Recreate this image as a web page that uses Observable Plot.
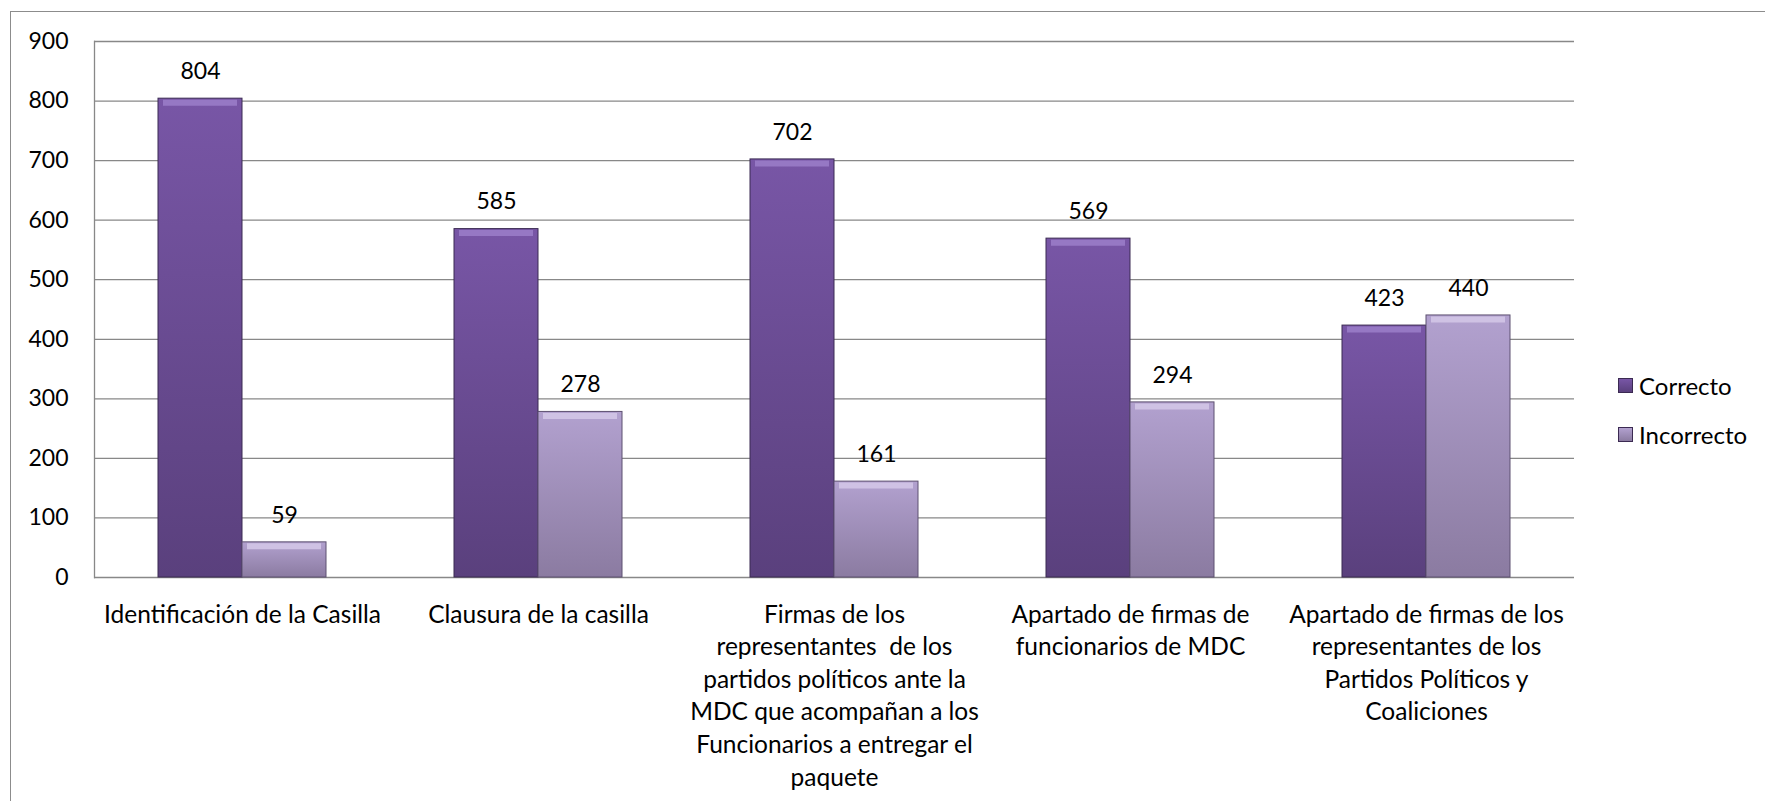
<!DOCTYPE html>
<html>
<head>
<meta charset="utf-8">
<script src="https://cdn.jsdelivr.net/npm/d3@7"></script>
<script src="https://cdn.jsdelivr.net/npm/@observablehq/plot@0.6"></script>
<style>
  html, body { margin: 0; padding: 0; background: #fff; }
  #wrap { position: relative; width: 1765px; height: 801px; overflow: hidden; font-family: Lato, sans-serif; }
  #border { position: absolute; left: 10px; top: 11px; width: 1800px; height: 900px;
            border-top: 1.5px solid #8c8c8c; border-left: 1.5px solid #8c8c8c; }
  #chart { position: absolute; left: 0; top: 0; }
  #legend { position: absolute; left: 1618px; top: 372px; font-size: 24px; color: #000; }
  .row { display: flex; align-items: center; height: 26px; margin-bottom: 23px; }
  .sw { width: 15px; height: 15px; margin-right: 6px; box-sizing: border-box; border: 1px solid #3b2a52; }
</style>
</head>
<body>
<div id="wrap">
  <div id="border"></div>
  <div id="chart"></div>
  <div id="legend"></div>
</div>
<script>
const categories = [
  "Identificación de la Casilla",
  "Clausura de la casilla",
  "Firmas de los representantes  de los partidos políticos ante la MDC que acompañan a los Funcionarios a entregar el paquete",
  "Apartado de firmas de funcionarios de MDC",
  "Apartado de firmas de los representantes de los Partidos Políticos y Coaliciones"
];
const categoryLabels = [
  "Identificación de la Casilla",
  "Clausura de la casilla",
  "Firmas de los\nrepresentantes  de los\npartidos políticos ante la\nMDC que acompañan a los\nFuncionarios a entregar el\npaquete",
  "Apartado de firmas de\nfuncionarios de MDC",
  "Apartado de firmas de los\nrepresentantes de los\nPartidos Políticos y\nCoaliciones"
];
const series = ["Correcto", "Incorrecto"];
const correcto = [804, 585, 702, 569, 423];
const incorrecto = [59, 278, 161, 294, 440];
const yTicks = [0, 100, 200, 300, 400, 500, 600, 700, 800, 900];

const rows = [];
categories.forEach((c, i) => {
  rows.push({category: c, series: "Correcto", value: correcto[i]});
  rows.push({category: c, series: "Incorrecto", value: incorrecto[i]});
});
const rowsC = rows.filter(d => d.series === "Correcto");
const rowsI = rows.filter(d => d.series === "Incorrecto");

const svg = Plot.plot({
  width: 1765,
  height: 801,
  marginLeft: 93,
  marginTop: 41,
  marginRight: 191,
  marginBottom: 224,
  style: {fontFamily: "Lato, sans-serif", fontSize: "23px", color: "#000", background: "transparent"},
  fx: {domain: categories, padding: 0, axis: null, label: null},
  x: {domain: series, paddingInner: 0, paddingOuter: 0.742, axis: null, label: null},
  y: {domain: [0, 900], axis: null, label: null},
  marks: [
    Plot.gridY(yTicks, {stroke: "#888", strokeOpacity: 1, strokeWidth: 1.3}),
    Plot.frame({anchor: "left", facet: "super", stroke: "#888", strokeWidth: 1.3}),
    Plot.axisY(yTicks, {tickSize: 0, tickPadding: 26, fontSize: 23, fill: "#000"}),
    Plot.axisFx({anchor: "bottom", tickSize: 0, tickPadding: 22, fontSize: 24.5, fill: "#000", lineHeight: 1.33,
                 label: null, tickFormat: d => categoryLabels[categories.indexOf(d)]}),
    Plot.barY(rowsC, {fx: "category", x: "series", y: "value", fill: "url(#gradC)", stroke: "#3b2a52", strokeWidth: 1}),
    Plot.barY(rowsI, {fx: "category", x: "series", y: "value", fill: "url(#gradI)", stroke: "#5d5070", strokeWidth: 1}),
    Plot.tickY(rowsC, {fx: "category", x: "series", y: "value", stroke: "#9678c4", strokeWidth: 6, dy: 4, insetLeft: 5, insetRight: 5}),
    Plot.tickY(rowsI, {fx: "category", x: "series", y: "value", stroke: "#cfc2e4", strokeWidth: 6, dy: 4, insetLeft: 5, insetRight: 5}),
    Plot.text(rows, {fx: "category", x: "series", y: "value", text: d => String(d.value), dy: -27,
                     lineAnchor: "middle", fontSize: 23, fill: "#000"})
  ]
});

const defs = d3.select(svg).insert("defs", ":first-child");
const gC = defs.append("linearGradient").attr("id", "gradC").attr("x1", 0).attr("y1", 0).attr("x2", 0).attr("y2", 1);
gC.append("stop").attr("offset", "0%").attr("stop-color", "#7856a6");
gC.append("stop").attr("offset", "100%").attr("stop-color", "#5a407d");
const gI = defs.append("linearGradient").attr("id", "gradI").attr("x1", 0).attr("y1", 0).attr("x2", 0).attr("y2", 1);
gI.append("stop").attr("offset", "0%").attr("stop-color", "#b2a1cf");
gI.append("stop").attr("offset", "100%").attr("stop-color", "#8b7ba1");

document.getElementById("chart").appendChild(svg);

const legend = d3.select("#legend");
const swatchFill = {Correcto: "linear-gradient(#7856a6, #5a407d)", Incorrecto: "linear-gradient(#b2a1cf, #8b7ba1)"};
series.forEach(s => {
  const r = legend.append("div").attr("class", "row");
  r.append("div").attr("class", "sw").style("background", swatchFill[s]);
  r.append("span").text(s);
});
</script>
</body>
</html>
